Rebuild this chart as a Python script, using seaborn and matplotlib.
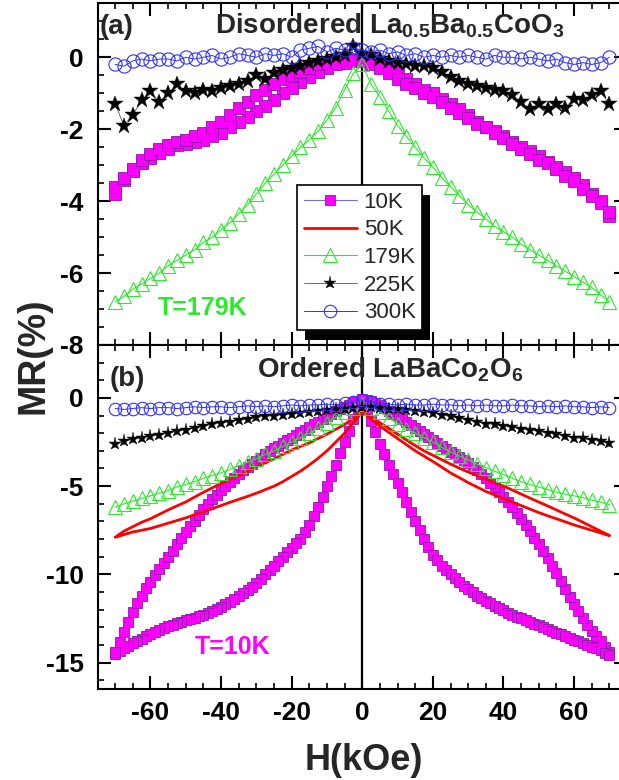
import numpy as np
import matplotlib
matplotlib.use("Agg")
import matplotlib.pyplot as plt
import seaborn as sns
from matplotlib.ticker import MultipleLocator
from matplotlib.patches import Rectangle
from matplotlib.transforms import IdentityTransform

# ---------------------------------------------------------------- field grids (kOe)
H_FIELD = np.linspace(-70, 70, 57)      # 2.5 kOe steps
H_FINE = np.linspace(-70, 70, 113)      # 1.25 kOe steps

# ---------------------------------------------------------------- (a) disordered La0.5Ba0.5CoO3, MR (%)
A_10K_UP = [-3.60, -3.35, -3.10, -2.85, -2.70, -2.55, -2.45, -2.35, -2.30, -2.20,
            -2.10, -1.95, -1.80, -1.60, -1.40, -1.25, -1.05, -0.90, -0.75, -0.60,
            -0.50, -0.40, -0.30, -0.20, -0.15, -0.10, -0.05, -0.05, -0.10,
            -0.20, -0.30, -0.45, -0.60, -0.75, -0.85, -1.00, -1.10, -1.25, -1.40,
            -1.55, -1.70, -1.85, -1.95, -2.10, -2.25, -2.40, -2.55, -2.70, -2.85,
            -2.95, -3.10, -3.30, -3.45, -3.65, -3.85, -4.05, -4.30]
A_10K_DOWN = [-3.80, -3.40, -3.15, -2.95, -2.80, -2.65, -2.55, -2.45, -2.40, -2.35,
              -2.30, -2.20, -2.10, -1.95, -1.80, -1.65, -1.50, -1.35, -1.20, -1.00,
              -0.85, -0.70, -0.55, -0.40, -0.30, -0.20, -0.15, -0.10, -0.05,
              -0.10, -0.20, -0.30, -0.45, -0.60, -0.75, -0.90, -1.00, -1.15, -1.30,
              -1.45, -1.60, -1.80, -1.95, -2.05, -2.20, -2.35, -2.50, -2.60, -2.75,
              -2.90, -3.05, -3.20, -3.35, -3.55, -3.80, -4.00, -4.40]
A_179K = [-6.80, -6.65, -6.45, -6.30, -6.15, -6.00, -5.80, -5.65, -5.50, -5.35,
          -5.15, -5.00, -4.80, -4.60, -4.35, -4.10, -3.80, -3.50, -3.25, -3.00,
          -2.75, -2.50, -2.30, -2.05, -1.75, -1.40, -0.90, -0.45, -0.20,
          -0.75, -1.10, -1.50, -1.90, -2.20, -2.50, -2.80, -3.05, -3.35, -3.60,
          -3.85, -4.10, -4.30, -4.50, -4.70, -4.85, -5.00, -5.20, -5.35, -5.50,
          -5.65, -5.80, -5.95, -6.10, -6.25, -6.40, -6.60, -6.80]
A_225K = [-1.30, -1.90, -1.60, -1.20, -0.95, -1.25, -1.00, -0.75, -0.95, -1.00,
          -0.90, -0.95, -0.85, -0.80, -0.75, -0.65, -0.50, -0.60, -0.45, -0.35,
          -0.30, -0.25, -0.15, -0.10, -0.05, 0.00, 0.05, 0.30, 0.10,
          0.05, -0.05, -0.10, -0.15, -0.20, -0.25, -0.25, -0.30, -0.40, -0.55,
          -0.65, -0.75, -0.80, -0.85, -0.90, -0.95, -1.05, -1.25, -1.45, -1.30,
          -1.45, -1.30, -1.40, -1.15, -1.20, -1.05, -0.95, -1.30]
A_300K = [-0.20, -0.25, -0.10, -0.05, -0.10, -0.05, -0.05, -0.10, 0.00, -0.05,
          0.00, 0.05, -0.05, 0.00, 0.10, 0.05, 0.00, 0.10, 0.05, 0.10,
          0.00, 0.20, 0.25, 0.30, 0.15, 0.25, 0.20, 0.25, 0.20,
          0.15, 0.20, 0.10, 0.15, 0.05, 0.10, 0.00, 0.05, 0.00, 0.05,
          0.00, 0.05, 0.00, -0.05, 0.05, 0.00, 0.00, -0.05, 0.00, -0.05,
          -0.10, -0.05, -0.15, -0.20, -0.15, -0.20, -0.15, 0.00]

# ---------------------------------------------------------------- (b) ordered LaBaCo2O6, MR (%)
# 10 K, field swept 70 -> -70 (descending) and -70 -> 70 (ascending), on H_FINE
B_10K_DESC = [-14.50, -14.35, -14.20, -14.05, -13.90, -13.78, -13.65, -13.52, -13.40, -13.28,
              -13.15, -13.05, -12.95, -12.85, -12.75, -12.68, -12.60, -12.52, -12.45, -12.38,
              -12.30, -12.20, -12.10, -11.98, -11.85, -11.70, -11.55, -11.40, -11.25, -11.08,
              -10.90, -10.70, -10.50, -10.25, -10.00, -9.75, -9.50, -9.25, -9.00, -8.75,
              -8.50, -8.25, -8.00, -7.60, -7.20, -6.70, -6.20, -5.60, -5.00, -4.40,
              -3.80, -3.15, -2.50, -1.85, -1.20, -0.70, -0.30,
              -0.10, -0.15, -0.28, -0.40, -0.58, -0.75, -0.90, -1.05, -1.20, -1.35,
              -1.52, -1.70, -1.88, -2.05, -2.22, -2.40, -2.55, -2.70, -2.88, -3.05,
              -3.20, -3.35, -3.52, -3.70, -3.90, -4.10, -4.32, -4.55, -4.80, -5.05,
              -5.32, -5.60, -5.90, -6.20, -6.52, -6.85, -7.20, -7.55, -7.92, -8.30,
              -8.70, -9.10, -9.52, -9.95, -10.40, -10.85, -11.28, -11.70, -12.10, -12.50,
              -12.85, -13.20, -13.50, -13.80, -14.10, -14.40]
B_10K_ASC = [-14.40, -13.85, -13.25, -12.70, -12.15, -11.65, -11.20, -10.80, -10.45, -10.05,
             -9.70, -9.35, -9.00, -8.65, -8.30, -7.95, -7.60, -7.28, -6.95, -6.62,
             -6.30, -6.02, -5.75, -5.48, -5.20, -4.98, -4.75, -4.52, -4.30, -4.10,
             -3.90, -3.72, -3.55, -3.38, -3.20, -3.02, -2.85, -2.70, -2.55, -2.40,
             -2.25, -2.10, -1.95, -1.80, -1.65, -1.50, -1.35, -1.20, -1.05, -0.90,
             -0.75, -0.62, -0.50, -0.38, -0.25, -0.15, -0.05,
             -0.65, -1.30, -1.95, -2.60, -3.20, -3.80, -4.30, -4.80, -5.35, -5.90,
             -6.45, -7.00, -7.50, -8.00, -8.45, -8.90, -9.20, -9.50, -9.75, -10.00,
             -10.22, -10.45, -10.65, -10.85, -11.02, -11.20, -11.35, -11.50, -11.65, -11.80,
             -11.92, -12.05, -12.18, -12.30, -12.40, -12.50, -12.60, -12.70, -12.80, -12.90,
             -13.00, -13.10, -13.20, -13.30, -13.40, -13.50, -13.60, -13.70, -13.80, -13.90,
             -14.00, -14.10, -14.20, -14.30, -14.45, -14.60]
# 50 K loop on H_FIELD
B_50K_DESC = [-7.90, -7.75, -7.60, -7.50, -7.40, -7.25, -7.10, -6.95, -6.80, -6.62,
              -6.45, -6.28, -6.10, -5.92, -5.75, -5.58, -5.40, -5.20, -5.00, -4.75,
              -4.45, -4.15, -3.80, -3.42, -3.00, -2.50, -2.00, -1.40, -0.80,
              -1.10, -1.40, -1.72, -2.05, -2.38, -2.70, -3.00, -3.25, -3.50, -3.75,
              -3.98, -4.20, -4.40, -4.60, -4.80, -5.00, -5.22, -5.45, -5.68, -5.90,
              -6.12, -6.35, -6.58, -6.80, -7.05, -7.30, -7.55, -7.80]
B_50K_ASC = [-7.90, -7.55, -7.30, -7.05, -6.85, -6.60, -6.35, -6.12, -5.90, -5.62,
             -5.35, -5.10, -4.85, -4.62, -4.40, -4.15, -3.90, -3.68, -3.45, -3.20,
             -2.95, -2.75, -2.55, -2.30, -2.05, -1.78, -1.50, -1.15, -0.75,
             -1.20, -1.60, -1.95, -2.30, -2.65, -3.00, -3.30, -3.60, -3.92, -4.25,
             -4.52, -4.80, -5.05, -5.30, -5.50, -5.70, -5.90, -6.10, -6.30, -6.50,
             -6.68, -6.85, -7.02, -7.20, -7.35, -7.50, -7.65, -7.80]
B_179K = [-6.20, -6.00, -5.85, -5.70, -5.55, -5.40, -5.25, -5.05, -4.90, -4.75,
          -4.55, -4.40, -4.25, -4.05, -3.85, -3.65, -3.45, -3.20, -3.00, -2.75,
          -2.50, -2.25, -2.00, -1.70, -1.40, -1.10, -0.80, -0.55, -0.35,
          -0.55, -0.80, -1.15, -1.45, -1.75, -2.00, -2.25, -2.50, -2.80, -3.05,
          -3.30, -3.50, -3.75, -3.95, -4.15, -4.35, -4.55, -4.75, -4.90, -5.05,
          -5.20, -5.35, -5.45, -5.55, -5.65, -5.80, -5.90, -6.05]
B_225K = [-2.60, -2.45, -2.35, -2.25, -2.15, -2.10, -2.00, -1.90, -1.80, -1.70,
          -1.60, -1.50, -1.40, -1.35, -1.25, -1.20, -1.10, -1.05, -1.00, -0.95,
          -0.90, -0.85, -0.80, -0.75, -0.70, -0.65, -0.60, -0.55, -0.50,
          -0.50, -0.55, -0.60, -0.65, -0.70, -0.75, -0.80, -0.85, -0.95, -1.05,
          -1.15, -1.25, -1.35, -1.45, -1.50, -1.60, -1.65, -1.75, -1.80, -1.90,
          -2.00, -2.05, -2.15, -2.25, -2.30, -2.40, -2.45, -2.55]
B_300K = [-0.60, -0.65, -0.60, -0.55, -0.60, -0.55, -0.55, -0.60, -0.55, -0.50,
          -0.55, -0.50, -0.50, -0.55, -0.50, -0.45, -0.50, -0.45, -0.50, -0.45,
          -0.40, -0.45, -0.40, -0.40, -0.35, -0.40, -0.30, -0.25, -0.10,
          -0.25, -0.35, -0.35, -0.40, -0.35, -0.40, -0.40, -0.35, -0.40, -0.40,
          -0.45, -0.40, -0.45, -0.40, -0.45, -0.45, -0.40, -0.45, -0.45, -0.50,
          -0.45, -0.50, -0.45, -0.50, -0.50, -0.55, -0.50, -0.55]

LABELS = ["10K", "50K", "179K", "225K", "300K"]

# ---------------------------------------------------------------- styling
sns.set_style("ticks")
plt.rcParams["font.family"] = ["Liberation Sans", "DejaVu Sans"]
plt.rcParams["font.weight"] = "bold"
plt.rcParams["axes.unicode_minus"] = False
plt.rcParams["mathtext.fontset"] = "custom"
plt.rcParams["mathtext.rm"] = "Liberation Sans"
plt.rcParams["mathtext.bf"] = "Liberation Sans:bold"

MAGENTA = "#ff00ff"
GREEN = "#2ee82e"
BLUE = "#3030ff"

# marker sizes per panel
SIZES = {
    "a": {"10K": 8.0, "179K": 10.5, "225K": 12.0, "300K": 9.5},
    "b": {"10K": 7.2, "179K": 10.0, "225K": 9.5, "300K": 9.0},
}


def style(key, ms=None):
    s = {
        "10K": dict(color="#7070d0", lw=0.8, marker="s",
                    markerfacecolor=MAGENTA, markeredgecolor="#8a1aa8", markeredgewidth=0.6),
        "50K": dict(color="#ff0000", lw=2.0),
        "179K": dict(color=GREEN, lw=0.8, marker="^",
                     markerfacecolor="none", markeredgecolor=GREEN, markeredgewidth=0.8),
        "225K": dict(color="#555555", lw=0.6, marker="*",
                     markerfacecolor="black", markeredgecolor="black", markeredgewidth=0.3),
        "300K": dict(color=BLUE, lw=0.7, marker="o",
                     markerfacecolor="none", markeredgecolor=BLUE, markeredgewidth=0.8),
    }[key]
    if ms is not None:
        s["ms"] = ms
    return s


def draw(ax, panel, h, mr, key):
    sns.lineplot(x=np.asarray(h), y=np.asarray(mr), ax=ax, estimator=None, sort=False,
                 legend=False, **style(key, SIZES[panel].get(key)))
    return ax.lines[-1]


def loop(h, desc, asc):
    """Join a descending and an ascending sweep into one closed field loop."""
    h = np.asarray(h)
    return (np.concatenate([h[::-1], h]),
            np.concatenate([np.asarray(desc)[::-1], np.asarray(asc)]))


fig = plt.figure(figsize=(6.19, 7.8), dpi=100)
left, width = 97.5 / 619, 529.5 / 619
ax_a = fig.add_axes([left, 1 - 345 / 780, width, (345 - 3.3) / 780])
ax_b = fig.add_axes([left, 1 - 689 / 780, width, (689 - 345) / 780])

for ax in (ax_a, ax_b):
    ax.axvline(0, color="black", lw=1.6, zorder=1.5)

# panel (a)
hx, mx = loop(H_FIELD, A_10K_DOWN, A_10K_UP)
draw(ax_a, "a", hx, mx, "10K")
draw(ax_a, "a", H_FIELD, A_179K, "179K")
draw(ax_a, "a", H_FIELD, A_225K, "225K")
draw(ax_a, "a", H_FIELD, A_300K, "300K")

# panel (b)
hx, mx = loop(H_FINE, B_10K_DESC, B_10K_ASC)
h10 = draw(ax_b, "b", hx, mx, "10K")
hx, mx = loop(H_FIELD, B_50K_DESC, B_50K_ASC)
h50 = draw(ax_b, "b", hx, mx, "50K")
h179 = draw(ax_b, "b", H_FIELD, B_179K, "179K")
h225 = draw(ax_b, "b", H_FIELD, B_225K, "225K")
h300 = draw(ax_b, "b", H_FIELD, B_300K, "300K")

# axes, ticks
for ax in (ax_a, ax_b):
    ax.set_xlim(-75, 75)
    ax.xaxis.set_major_locator(MultipleLocator(20))
    ax.xaxis.set_minor_locator(MultipleLocator(5))
    ax.tick_params(which="both", direction="in", top=True, right=True, colors="black")
    ax.tick_params(which="major", length=9.5, width=1.5, labelsize=19, pad=9)
    ax.tick_params(which="minor", length=4.5, width=1.2)
    ax.tick_params(axis="y", pad=10)
    ax.set_xlabel("")
    ax.set_ylabel("")
    for sp in ax.spines.values():
        sp.set_linewidth(1.5)
        sp.set_color("black")
        sp.set_visible(True)

ax_a.set_ylim(-8, 1.5)
ax_a.yaxis.set_major_locator(MultipleLocator(2))
ax_a.yaxis.set_minor_locator(MultipleLocator(0.5))
ax_a.tick_params(labelbottom=False)
ax_b.set_ylim(-16.5, 3)
ax_b.yaxis.set_major_locator(MultipleLocator(5))
ax_b.yaxis.set_minor_locator(MultipleLocator(1))

# panel annotations
ax_a.text(-74.4, 0.64, "(a)", fontsize=20, fontweight="bold", va="baseline")
ax_a.text(-41.8, 0.67,
          r"Disordered La$_{\mathbf{0.5}}$Ba$_{\mathbf{0.5}}$CoO$_{\mathbf{3}}$",
          fontsize=20, fontweight="bold", va="baseline")
ax_b.text(-71.5, 0.68, "(b)", fontsize=20, fontweight="bold", va="baseline")
ax_b.text(-29.9, 1.19, r"Ordered LaBaCo$_{\mathbf{2}}$O$_{\mathbf{6}}$",
          fontsize=20, fontweight="bold", va="baseline")
ax_a.text(-45.2, -6.97, "T=179K", color=GREEN, fontsize=18, fontweight="bold",
          ha="center", va="center")
ax_b.text(-36.7, -14.12, "T=10K", color=MAGENTA, fontsize=18, fontweight="bold",
          ha="center", va="center")

fig.text(33 / 619, 1 - 356 / 780, "MR(%)", rotation=90, fontsize=27, fontweight="bold",
         ha="center", va="center")
fig.text(364 / 619, 1 - 760 / 780, "H(kOe)", fontsize=26, fontweight="bold",
         ha="center", va="center")

# legend with a solid drop shadow
leg = ax_a.legend(handles=[h10, h50, h179, h225, h300], labels=LABELS,
                  loc="upper left", bbox_to_anchor=((297 - 97.5) / 529.5, (345 - 185) / 341.7),
                  borderaxespad=0, frameon=True, fancybox=False, framealpha=1,
                  edgecolor="black", prop={"size": 16, "weight": "normal"},
                  handlelength=2.4, handletextpad=0.3, labelspacing=0.3, borderpad=0.3)
leg.get_frame().set_linewidth(1.2)
leg.set_zorder(6)

fig.canvas.draw()
bb = leg.get_window_extent()
shadow = Rectangle((bb.x0 + 8, bb.y0 - 10), bb.width, bb.height, facecolor="black",
                   edgecolor="none", transform=IdentityTransform(), zorder=5.5)
ax_a.add_patch(shadow)

fig.savefig("out.png", dpi=100)
